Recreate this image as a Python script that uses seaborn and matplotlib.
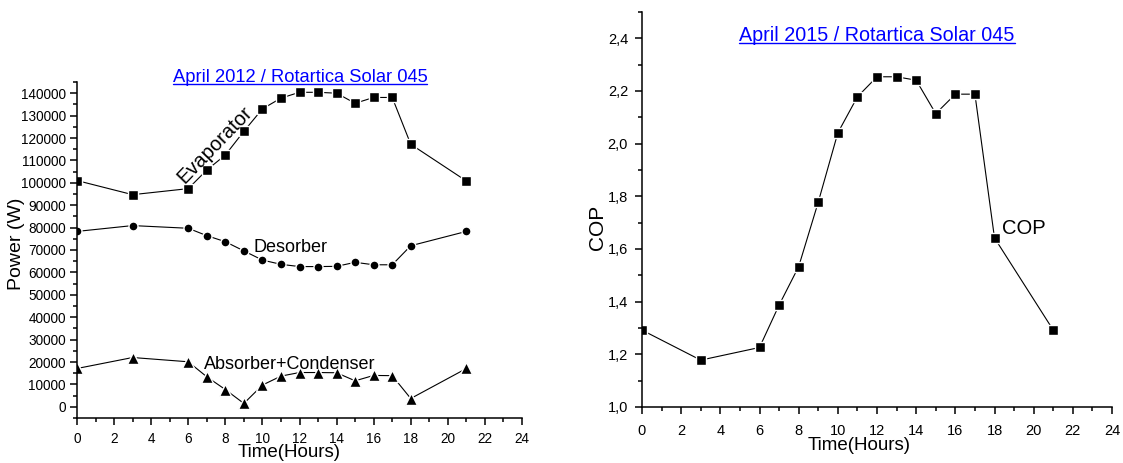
import matplotlib
matplotlib.use('Agg')
import matplotlib.pyplot as plt
from matplotlib.lines import Line2D
from matplotlib.ticker import MultipleLocator
import seaborn as sns

# hours of measurement
hours = [0, 3, 6, 7, 8, 9, 10, 11, 12, 13, 14, 15, 16, 17, 18, 21]

# April 2012 powers (W)
evaporator = [101000, 94700, 97400, 105700, 112400, 123000, 133000, 137800,
              140400, 140400, 140000, 135500, 138100, 138100, 117200, 100800]
desorber = [78300, 80900, 79700, 76400, 73700, 69600, 65500, 63600,
            62600, 62600, 62700, 64500, 63400, 63400, 71900, 78300]
absorber_condenser = [17100, 22000, 20100, 13400, 7700, 1500, 9700, 13700,
                      15300, 15300, 15200, 11600, 14000, 13900, 3700, 17100]

# April 2015 COP
cop = [1.292, 1.178, 1.226, 1.387, 1.533, 1.778, 2.041, 2.178,
       2.254, 2.254, 2.241, 2.114, 2.188, 2.188, 1.642, 1.292]

power_ticks = list(range(0, 140001, 10000))
cop_ticks = [1.0, 1.2, 1.4, 1.6, 1.8, 2.0, 2.2, 2.4]
cop_labels = ['1,0', '1,2', '1,4', '1,6', '1,8', '2,0', '2,2', '2,4']
hour_ticks = list(range(0, 25, 2))

sns.set_style('ticks')
plt.rcParams['font.family'] = ['Liberation Sans', 'DejaVu Sans']
plt.rcParams['axes.linewidth'] = 1.1
for k in ('text.color', 'axes.labelcolor', 'xtick.color', 'ytick.color', 'axes.edgecolor'):
    plt.rcParams[k] = 'black'

W, H = 1123, 463
fig = plt.figure(figsize=(W / 100, H / 100), dpi=100)


def px_axes(l, t, r, b):
    return fig.add_axes([l / W, 1 - b / H, (r - l) / W, (b - t) / H])


ax1 = px_axes(77, 82, 522, 418)
ax2 = px_axes(642, 12, 1112, 407)

line_kw = dict(color='black', linewidth=0.8, markeredgecolor='white',
               markeredgewidth=1.0)
sns.lineplot(x=hours, y=evaporator, ax=ax1, marker='s', markersize=6.5, **line_kw)
sns.lineplot(x=hours, y=desorber, ax=ax1, marker='o', markersize=6.5, **line_kw)
sns.lineplot(x=hours, y=absorber_condenser, ax=ax1, marker='^', markersize=8.5, **line_kw)
sns.lineplot(x=hours, y=cop, ax=ax2, marker='s', markersize=6.5, **line_kw)

for ax in (ax1, ax2):
    sns.despine(ax=ax)
    ax.set_xlim(0, 24)
    ax.set_xticks(hour_ticks)
    ax.xaxis.set_minor_locator(MultipleLocator(1))
    ax.tick_params(which='major', direction='out', length=5, width=1.1)
    ax.tick_params(which='minor', direction='out', length=3, width=1.1)

ax1.set_ylim(-5000, 145000)
ax1.set_yticks(power_ticks)
ax1.yaxis.set_minor_locator(MultipleLocator(5000))
ax1.tick_params(axis='both', which='major', labelsize=9.8, pad=3)
ax1.tick_params(axis='x', which='major', pad=5)

ax2.set_ylim(1.0, 2.5)
ax2.set_yticks(cop_ticks)
ax2.set_yticklabels(cop_labels)
ax2.yaxis.set_minor_locator(MultipleLocator(0.1))
ax2.tick_params(axis='both', which='major', labelsize=10.5, pad=5)
ax2.tick_params(axis='x', which='major', pad=7)

ax1.set_xlabel('Time(Hours)', fontsize=13.5)
ax1.xaxis.set_label_coords(0.476, -0.077)
ax1.xaxis.label.set_va('top')
ax1.set_ylabel('Power (W)', fontsize=14)
ax1.yaxis.set_label_coords(-0.117, 0.519)

ax2.set_xlabel('Time(Hours)', fontsize=13.5)
ax2.xaxis.set_label_coords(0.462, -0.075)
ax2.xaxis.label.set_va('top')
ax2.set_ylabel('COP', fontsize=15)
ax2.yaxis.set_label_coords(-0.075, 0.456)

ax1.text(7.45, 116800, 'Evaporator', fontsize=14.5, rotation=46,
         ha='center', va='center', rotation_mode='anchor')
ax1.text(11.54, 71300, 'Desorber', fontsize=13, ha='center', va='center')
ax1.text(11.49, 18700, 'Absorber+Condenser', fontsize=13, ha='center', va='center')
ax2.text(18.37, 1.676, 'COP', fontsize=14.5, ha='left', va='center')

# blue underlined titles
titles = [('April 2012 / Rotartica Solar 045', 300, 81.7, 13.2),
          ('April 2015 / Rotartica Solar 045', 877, 40.7, 14.2)]
fig.canvas.draw()
renderer = fig.canvas.get_renderer()
for label, cx, base, size in titles:
    t = fig.text(cx / W, 1 - base / H, label, color='#0000ff', fontsize=size,
                 ha='center', va='baseline')
    bb = t.get_window_extent(renderer=renderer)
    uy = 1 - (base + 2) / H
    fig.add_artist(Line2D([bb.x0 / W, bb.x1 / W], [uy, uy], color='#0000ff',
                          linewidth=1.0, transform=fig.transFigure))

fig.savefig('out.png', dpi=100)
